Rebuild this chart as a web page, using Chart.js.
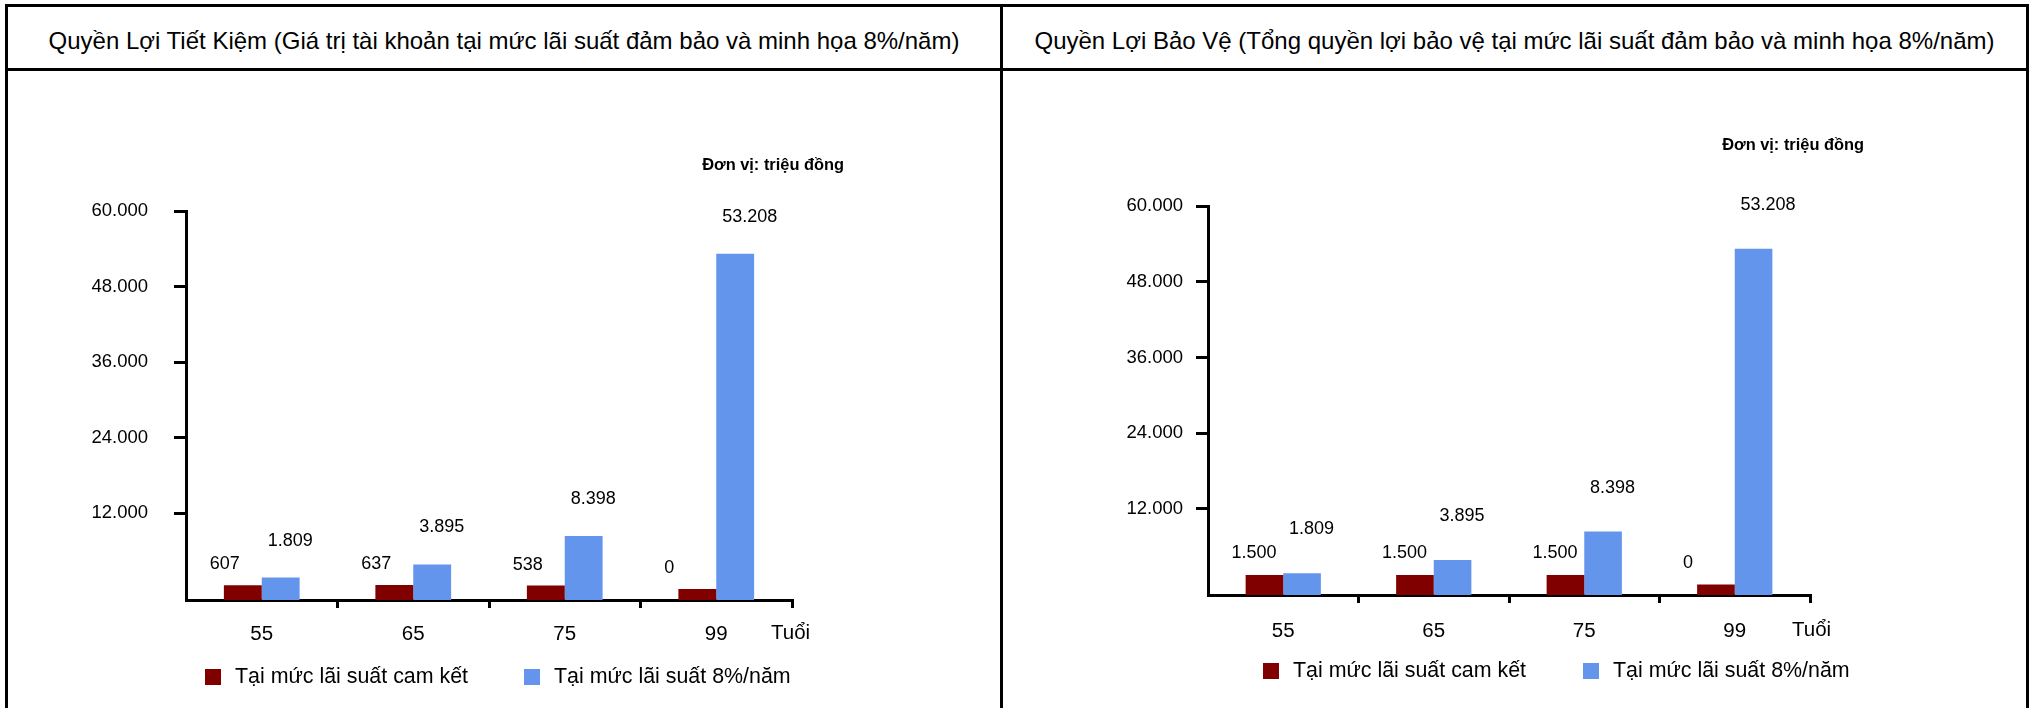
<!DOCTYPE html>
<html lang="vi">
<head>
<meta charset="utf-8">
<title>Quyền Lợi Tiết Kiệm / Bảo Vệ</title>
<script src="https://cdn.jsdelivr.net/npm/chart.js@4.4.1/dist/chart.umd.min.js"></script>
<style>
  body { margin: 0; width: 2032px; height: 708px; background: #fff; position: relative; overflow: hidden;
         font-family: 'Liberation Sans', Arial, sans-serif; color: #000; }
  .line { position: absolute; background: #000; }
  .title { position: absolute; top: 7px; height: 61px; line-height: 67px; text-align: center; font-size: 24px; white-space: nowrap; }
  .chart-box { position: absolute; top: 72px; height: 636px; }
</style>
</head>
<body>
<div class="line" style="left:5px;top:4px;width:2024px;height:3px"></div>
<div class="line" style="left:5px;top:4px;width:3px;height:704px"></div>
<div class="line" style="left:1000px;top:4px;width:3px;height:704px"></div>
<div class="line" style="left:2026px;top:4px;width:3px;height:704px"></div>
<div class="line" style="left:5px;top:68px;width:2024px;height:3px"></div>

<div class="title" id="title-left" style="left:8px;width:992px"></div>
<div class="title" id="title-right" style="left:1003px;width:1023px"></div>

<div class="chart-box" style="left:8px;width:992px"><canvas id="savings" width="992" height="636"></canvas></div>
<div class="chart-box" style="left:1003px;width:1023px"><canvas id="protection" width="1023" height="636"></canvas></div>

<script>
// data
const titleSavings = 'Quyền Lợi Tiết Kiệm (Giá trị tài khoản tại mức lãi suất đảm bảo và minh họa 8%/năm)';
const titleProtection = 'Quyền Lợi Bảo Vệ (Tổng quyền lợi bảo vệ tại mức lãi suất đảm bảo và minh họa 8%/năm)';
const unitText = 'Đơn vị: triệu đồng';
const axisTitle = 'Tuổi';
const ages = ['55', '65', '75', '99'];
const seriesNames = ['Tại mức lãi suất cam kết', 'Tại mức lãi suất 8%/năm'];
const savingsGuaranteed = [607, 637, 538, 0];
const savingsIllustrated = [1809, 3895, 8398, 53208];
const protectionGuaranteed = [1500, 1500, 1500, 0];
const protectionIllustrated = [1809, 3895, 8398, 53208];
const yTicks = [12000, 24000, 36000, 48000, 60000];
const yMaxValue = 60000;
const yMinSavings = -1750;
const yMinProtection = -1650;

const colors = ['#800000', '#6495ED'];
const FONT = "'Liberation Sans', Arial, sans-serif";

document.getElementById('title-left').textContent = titleSavings;
document.getElementById('title-right').textContent = titleProtection;

function formatNumber(v) {
    return String(v).replace(/\B(?=(\d{3})+(?!\d))/g, '.');
}

Chart.defaults.font.family = FONT;
Chart.defaults.color = '#000';

// draws value labels, unit note, axis title and legend
const extrasPlugin = {
    id: 'extras',
    afterDatasetsDraw(chart, args, opts) {
        const ctx = chart.ctx;
        const area = chart.chartArea;
        ctx.save();
        ctx.fillStyle = '#000';
        ctx.textBaseline = 'middle';
        ctx.textAlign = 'left';
        ctx.font = '18px ' + FONT;
        chart.data.datasets.forEach((ds, i) => {
            const meta = chart.getDatasetMeta(i);
            meta.data.forEach((bar, j) => {
                ctx.fillText(formatNumber(ds.data[j]), bar.x + opts.labelDx[i], bar.y - opts.labelDy[i]);
            });
        });

        ctx.font = 'bold 16.4px ' + FONT;
        ctx.textAlign = 'right';
        ctx.fillText(unitText, area.right + opts.unitDx, area.top - opts.unitDy);

        ctx.font = '20.5px ' + FONT;
        ctx.textAlign = 'left';
        ctx.fillText(axisTitle, area.right - opts.axisDx, area.bottom + opts.axisDy);

        ctx.font = '21.4px ' + FONT;
        let x = area.left + opts.legendX;
        const y = area.bottom + opts.legendDy;
        chart.data.datasets.forEach((ds) => {
            ctx.fillStyle = ds.backgroundColor;
            ctx.fillRect(x, y - 8, 16, 16);
            ctx.fillStyle = '#000';
            ctx.fillText(ds.label, x + 30, y);
            x += opts.legendGap;
        });
        ctx.restore();
    }
};

function makeChart(id, guaranteed, illustrated, yMin, lay) {
    const ctx = document.getElementById(id);
    return new Chart(ctx, {
        type: 'bar',
        data: {
            labels: ages,
            datasets: [{
                label: seriesNames[0],
                data: guaranteed,
                backgroundColor: colors[0],
                base: yMin
            }, {
                label: seriesNames[1],
                data: illustrated,
                backgroundColor: colors[1],
                base: yMin
            }]
        },
        options: {
            responsive: false,
            animation: false,
            categoryPercentage: 0.5,
            barPercentage: 1,
            layout: { padding: { top: lay.top, right: lay.right, bottom: 0, left: 0 } },
            plugins: {
                legend: { display: false },
                tooltip: { enabled: false },
                extras: lay.extras
            },
            scales: {
                x: {
                    grid: {
                        drawOnChartArea: false,
                        tickLength: 8,
                        lineWidth: 3,
                        color: (c) => c.index === 0 ? 'rgba(0,0,0,0)' : '#000'
                    },
                    border: { color: '#000', width: 3 },
                    ticks: { font: { size: 20.5 }, padding: lay.xPad },
                    afterFit: (scale) => { scale.height = lay.xHeight; }
                },
                y: {
                    min: yMin,
                    max: yMaxValue,
                    afterBuildTicks: (scale) => { scale.ticks = yTicks.map(v => ({ value: v })); },
                    grid: { drawOnChartArea: false, tickLength: 12, lineWidth: 3, color: '#000' },
                    border: { color: '#000', width: 3 },
                    ticks: { font: { size: 18.5 }, padding: lay.yPad, callback: (v) => formatNumber(v) },
                    afterFit: (scale) => { scale.width = lay.yWidth; }
                }
            }
        },
        plugins: [extrasPlugin]
    });
}

makeChart('savings', savingsGuaranteed, savingsIllustrated, yMinSavings, {
    top: 139, right: 208, yWidth: 178, xHeight: 108, xPad: 14, yPad: 26,
    extras: { labelDx: [-33, -13], labelDy: [21, 37], unitDx: 52, unitDy: 46,
              axisDx: 21, axisDy: 33, legendX: 19, legendGap: 319, legendDy: 77 }
});

makeChart('protection', protectionGuaranteed, protectionIllustrated, yMinProtection, {
    top: 134, right: 216, yWidth: 205, xHeight: 113, xPad: 16, yPad: 13,
    extras: { labelDx: [-33, -13], labelDy: [22, 44], unitDx: 54, unitDy: 61,
              axisDx: 18, axisDy: 35, legendX: 55, legendGap: 320, legendDy: 76 }
});
</script>
</body>
</html>
